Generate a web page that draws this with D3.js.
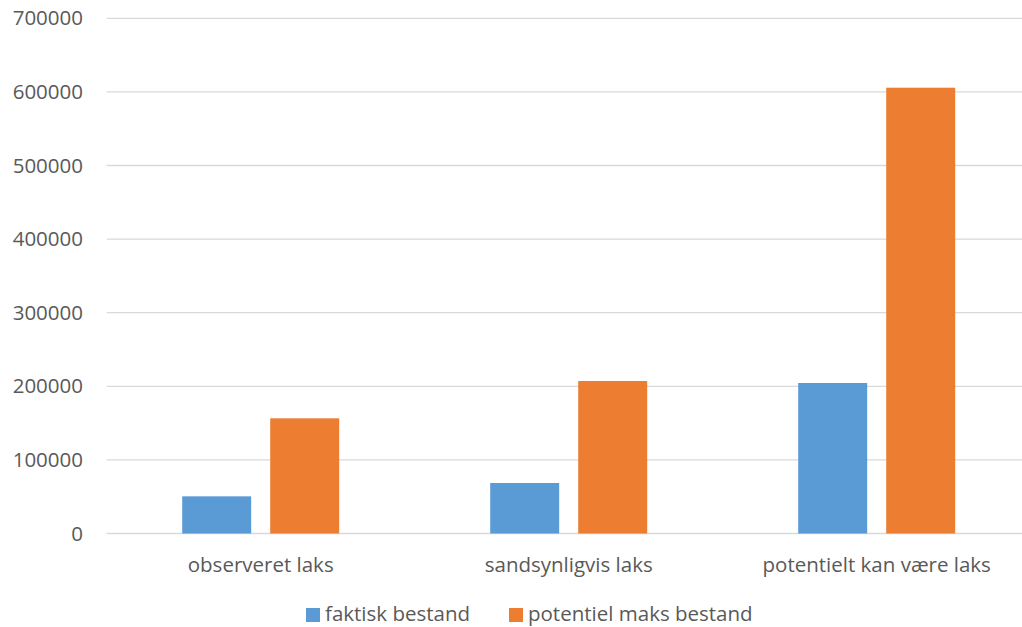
<!DOCTYPE html>
<html><head><meta charset="utf-8">
<script src="https://cdn.jsdelivr.net/npm/d3@7"></script>
<style>
body{margin:0;background:#fff;}
text{font-family:"Open Sans",sans-serif;fill:#595959;}
</style></head>
<body>
<svg id="chart" width="1022" height="627"></svg>
<script>
const categories = ["observeret laks", "sandsynligvis laks", "potentielt kan være laks"];
const seriesNames = ["faktisk bestand", "potentiel maks bestand"];
const faktisk = [50500, 68600, 204500];
const potentiel = [156500, 207200, 605700];
const yTicks = [0, 100000, 200000, 300000, 400000, 500000, 600000, 700000];
const colors = ["#5B9BD5", "#ED7D31"];

(function(){
const svg = d3.select("#chart");
const fs = "20.5px";
const mLeft = 106.7, mTop = 18.3, mBottom = 533.5, bandW = 308;
const x0 = d3.scaleBand().domain(categories).range([mLeft, mLeft + bandW * categories.length]).paddingInner(0).paddingOuter(0);
const x1 = d3.scaleBand().domain(seriesNames).range([0, bandW]).paddingInner(0.216).paddingOuter(0.858);
const y = d3.scaleLinear().domain([0, 700000]).range([mBottom, mTop]);

// grid
svg.append("g").selectAll("line").data(yTicks).join("line")
  .attr("x1", mLeft).attr("x2", 1022)
  .attr("y1", d => y(d)).attr("y2", d => y(d))
  .attr("stroke", "#D9D9D9").attr("stroke-width", 1.3);

// y axis labels
const yAxis = d3.axisLeft(y).tickValues(yTicks).tickFormat(d3.format("d")).tickSize(0).tickPadding(0);
const ga = svg.append("g").attr("transform", `translate(83,0)`).call(yAxis);
ga.select(".domain").remove();
ga.selectAll("text").style("font-size", fs).attr("fill", "#595959").attr("font-family", "Open Sans");

// bars
const data = categories.map((c, i) => ({cat: c, vals: [faktisk[i], potentiel[i]]}));
const groups = svg.append("g").selectAll("g").data(data).join("g")
  .attr("transform", d => `translate(${x0(d.cat)},0)`);
groups.selectAll("rect").data(d => d.vals.map((v, j) => ({name: seriesNames[j], v, j}))).join("rect")
  .attr("x", d => x1(d.name)).attr("width", x1.bandwidth())
  .attr("y", d => y(d.v)).attr("height", d => y(0) - y(d.v))
  .attr("fill", d => colors[d.j]);

// x axis labels
const xAxis = d3.axisBottom(x0).tickSize(0).tickPadding(0);
const gx = svg.append("g").attr("transform", `translate(0,${mBottom + 24})`).call(xAxis);
gx.select(".domain").remove();
gx.selectAll("text").style("font-size", fs).attr("fill", "#595959").attr("font-family", "Open Sans").attr("dy", "0.71em");

// legend
const legendX = [306, 509];
const lg = svg.append("g").selectAll("g").data(seriesNames).join("g")
  .attr("transform", (d, i) => `translate(${legendX[i]},608)`);
lg.append("rect").attr("width", 14).attr("height", 14).attr("fill", (d, i) => colors[i]);
lg.append("text").attr("x", 19).attr("y", 6).attr("dy", "0.35em").style("font-size", fs).text(d => d);
})();
</script>
</body></html>
